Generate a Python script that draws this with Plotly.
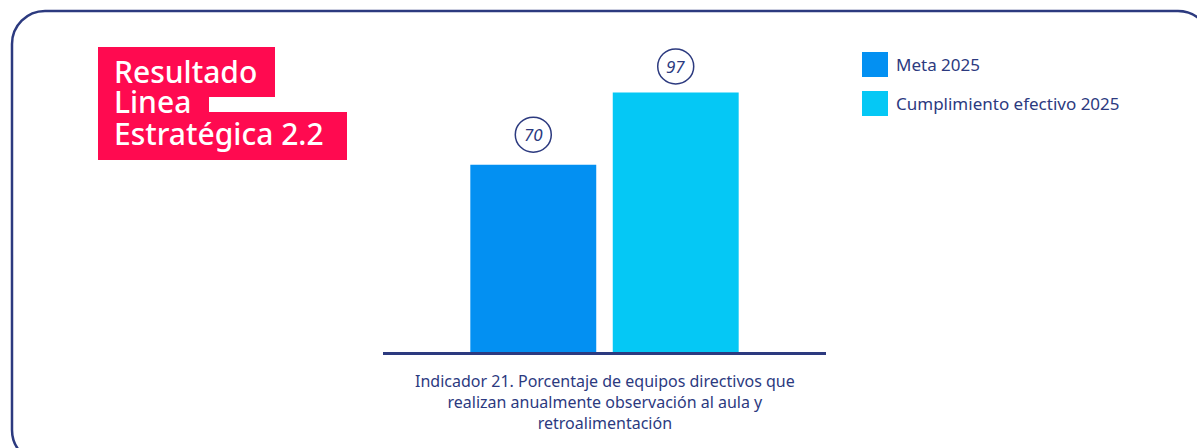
import plotly.graph_objects as go

# ---- data ----
series_names = ["Meta 2025", "Cumplimiento efectivo 2025"]
series_values = [70, 97]
indicator_label = ("Indicador 21. Porcentaje de equipos directivos que<br>"
                   "realizan anualmente observación al aula y<br>retroalimentación")
title_lines = ["Resultado", "Linea", "Estratégica 2.2"]

# ---- styles ----
bar_colors = ["#0390F2", "#05C8F5"]
navy = "#2C3A7F"
red = "#FF0A50"
font_family = "Noto Sans"

W, H = 1197, 448
M_L, M_R, M_T, M_B = 383, W - 826, 40, H - 352
PLOT_W = W - M_L - M_R
PLOT_H = H - M_T - M_B
Y_MAX = 116.6


def px(x):
    return (x - M_L) / PLOT_W


def py(y):
    return (H - M_B - y) / PLOT_H


fig = go.Figure()

positions = list(range(len(series_values)))
for i, (name, val) in enumerate(zip(series_names, series_values)):
    fig.add_trace(go.Bar(
        x=[positions[i]], y=[val], name=name, width=0.884,
        marker=dict(color=bar_colors[i], line=dict(width=0)),
        showlegend=False, hoverinfo="skip",
    ))

shapes = []
annotations = []

# value badges: circle + italic number above each bar
label_shift = [30, 26]
for i, val in enumerate(series_values):
    shapes.append(dict(
        type="circle", xref="x", yref="y",
        xsizemode="pixel", ysizemode="pixel",
        xanchor=positions[i], yanchor=val,
        x0=-18, x1=18, y0=label_shift[i] - 17.5, y1=label_shift[i] + 17.5,
        line=dict(color=navy, width=1.5), fillcolor="white",
    ))
    annotations.append(dict(
        x=positions[i], y=val, xref="x", yref="y", yshift=label_shift[i],
        text=f"<i>{val}</i>", showarrow=False,
        font=dict(family=font_family, size=17, color=navy),
        xanchor="center", yanchor="middle",
    ))

# outer rounded frame
L, T, R, B, r = 12, 11, 1211, 463, 33
k = r * 0.5523
pts = [
    f"M {px(L + r)},{py(T)}",
    f"L {px(R - r)},{py(T)}",
    f"C {px(R - r + k)},{py(T)} {px(R)},{py(T + r - k)} {px(R)},{py(T + r)}",
    f"L {px(R)},{py(B - r)}",
    f"C {px(R)},{py(B - r + k)} {px(R - r + k)},{py(B)} {px(R - r)},{py(B)}",
    f"L {px(L + r)},{py(B)}",
    f"C {px(L + r - k)},{py(B)} {px(L)},{py(B - r + k)} {px(L)},{py(B - r)}",
    f"L {px(L)},{py(T + r)}",
    f"C {px(L)},{py(T + r - k)} {px(L + r - k)},{py(T)} {px(L + r)},{py(T)}",
    "Z",
]
shapes.append(dict(type="path", xref="paper", yref="paper", path=" ".join(pts),
                   line=dict(color=navy, width=2.5), layer="below"))

# title highlight blocks
for (x0, y0, x1, y1) in [(98, 47, 275, 97), (98, 96, 209, 113), (98, 112, 347, 160)]:
    shapes.append(dict(type="rect", xref="paper", yref="paper",
                       x0=px(x0), x1=px(x1), y0=py(y1), y1=py(y0),
                       fillcolor=red, line=dict(width=0), layer="below"))
for line, yc in zip(title_lines, [71, 102, 133]):
    annotations.append(dict(
        x=px(112), y=py(yc), xref="paper", yref="paper", text=line,
        showarrow=False, xanchor="left", yanchor="middle",
        font=dict(family=font_family, size=30, color="white", weight=500),
    ))

# legend
for i, name in enumerate(series_names):
    y0 = 52 + i * 39
    shapes.append(dict(type="rect", xref="paper", yref="paper",
                       x0=px(862), x1=px(888), y0=py(y0 + 25), y1=py(y0),
                       fillcolor=bar_colors[i], line=dict(width=0)))
    annotations.append(dict(
        x=px(894), y=py(y0 + 12.5), xref="paper", yref="paper", text=name,
        showarrow=False, xanchor="left", yanchor="middle",
        font=dict(family=font_family, size=17, color=navy),
    ))

# indicator caption under the axis
annotations.append(dict(
    x=px(605), y=py(368), xref="paper", yref="paper", text=indicator_label,
    showarrow=False, xanchor="center", yanchor="top", align="center",
    font=dict(family=font_family, size=16, color=navy),
))

fig.update_layout(
    width=W, height=H,
    margin=dict(l=M_L, r=M_R, t=M_T, b=M_B, pad=0),
    paper_bgcolor="white", plot_bgcolor="white",
    barmode="overlay",
    xaxis=dict(range=[-1.055, 2.055], showgrid=False, zeroline=False,
               showticklabels=False, ticks="", showline=True,
               linecolor=navy, linewidth=3, fixedrange=True),
    yaxis=dict(range=[0, Y_MAX], visible=False, fixedrange=True),
    shapes=shapes, annotations=annotations,
    font=dict(family=font_family, color=navy),
)

fig.write_html("out.html", config={"displayModeBar": False})
